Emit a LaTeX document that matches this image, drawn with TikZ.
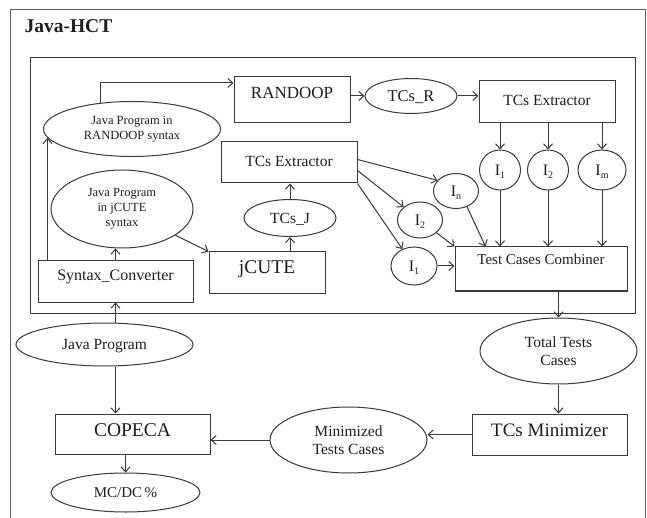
\documentclass[tikz,border=0pt]{standalone}
\usepackage{fontspec}
\IfFontExistsTF{LiberationSerif-Regular.ttf}
  {\setmainfont{LiberationSerif}[Extension=.ttf,UprightFont=*-Regular,BoldFont=*-Bold,ItalicFont=*-Italic,BoldItalicFont=*-BoldItalic]}
  {\setmainfont{Liberation Serif}}
\usetikzlibrary{shapes.geometric,arrows.meta,calc}
\definecolor{lc}{HTML}{3A3A3A}
\definecolor{tc}{HTML}{1E1E1E}
\newcommand\lift[2]{\raisebox{\dimexpr#1pt-.33em\relax}[0pt][0pt]{#2}}
\newcommand\fsz[2]{\fontsize{#1}{#2}\selectfont}
\newcommand\low[1]{\raisebox{-0.22em}{\fontsize{10}{10}\selectfont #1}}
\tikzset{
  ln/.style={draw=lc, line width=1pt},
  box/.style={ln, rectangle, inner sep=0pt, text=tc},
  ell/.style={ln, ellipse, inner sep=0pt, text=tc, align=center},
  arr/.style={ln, -{Straight Barb[length=5pt,width=9pt]}},
}
\begin{document}
\begin{tikzpicture}[x=1pt,y=-1pt]
\fill[white] (0,0) rectangle (647,518);
\useasboundingbox (0,0) rectangle (647,518);
% frames
\draw[draw=lc!80, line width=1pt] (10,518) -- (10,10) -- (645,10) -- (645,518);
\draw[ln] (30,58) rectangle (635,313);
\node[anchor=base west, text=tc, font=\fsz{19.5}{20}\bfseries] (title) at (21,33) {Java-HCT};

% nodes
\node[box, minimum width=116, minimum height=46, font=\fsz{17}{17}] (rand) at (292,100) {\lift{7}{RANDOOP}};
\node[ell, minimum width=92, minimum height=35, font=\fsz{16.5}{16.5}] (tcr) at (411,96) {\lift{0}{TCs\_R}};
\node[box, minimum width=136, minimum height=42, font=\fsz{15.5}{15.5}] (tex1) at (547,102) {\lift{2}{TCs Extractor}};
\node[ell, minimum width=41, minimum height=40, font=\fsz{16}{16}] (i1) at (500,170) {\lift{0}{I\low{1}}};
\node[ell, minimum width=41, minimum height=40, font=\fsz{16}{16}] (i2) at (548,170) {\lift{0}{I\low{2}}};
\node[ell, minimum width=48, minimum height=40, font=\fsz{16}{16}] (im) at (602,170) {\lift{0}{I\low{m}}};
\node[box, minimum width=172, minimum height=44, font=\fsz{15}{15}] (comb) at (541,269) {\lift{9}{Test Cases Combiner}};
\node[ell, minimum width=45, minimum height=35, font=\fsz{16}{16}] (in) at (456,191) {\lift{0}{I\low{n}}};
\node[ell, minimum width=45, minimum height=36, font=\fsz{16}{16}] (i2b) at (420,220) {\lift{0}{I\low{2}}};
\node[ell, minimum width=46, minimum height=38, font=\fsz{16}{16}] (i1b) at (414,266) {\lift{0}{I\low{1}}};
\node[box, minimum width=136, minimum height=41, font=\fsz{15.5}{15.5}] (tex2) at (289,162.5) {\lift{1}{TCs Extractor}};
\node[ell, minimum width=92, minimum height=37, font=\fsz{15.5}{15.5}] (tcj) at (290,218) {\lift{0}{TCs\_J}};
\node[box, minimum width=116, minimum height=41, font=\fsz{19.5}{19.5}] (jc) at (267,272.5) {\lift{5}{jCUTE}};
\node[ell, minimum width=177, minimum height=55, font=\fsz{12.5}{15}] (jr) at (132,129) {Java Program in\\RANDOOP syntax};
\node[ell, minimum width=142, minimum height=78, font=\fsz{12.5}{15}] (jj) at (122,209) {Java Program\\in jCUTE\\syntax};
\node[box, minimum width=155, minimum height=41, font=\fsz{16}{16}] (sc) at (115.5,281.5) {\lift{6}{Syntax\_Converter}};
\node[ell, minimum width=177, minimum height=43, font=\fsz{15.5}{15.5}] (jp) at (104.5,344.5) {\lift{0}{Java Program}};
\node[box, minimum width=155, minimum height=40, font=\fsz{19.5}{19.5}] (cop) at (132.5,434) {\lift{4}{COPECA}};
\node[ell, minimum width=149, minimum height=39, font=\fsz{15}{15}] (mc) at (125.5,492.5) {\lift{0}{MC/DC\,\%}};
\node[ell, minimum width=157, minimum height=66, font=\fsz{15.5}{18}] (minz) at (348.5,440) {Minimized\\Tests Cases};
\node[box, minimum width=155, minimum height=41, font=\fsz{19}{19}] (mini) at (549.5,434.5) {\lift{4}{TCs Minimizer}};
\node[ell, minimum width=157, minimum height=66, font=\fsz{15.5}{18}] (tt) at (558.5,351) {Total Tests\\Cases};

% connectors
\draw[arr] (jr.140) |- ([yshift=17pt]rand.west);
\draw[arr] (rand.east |- tcr.west) -- (tcr.west);
\draw[arr] (tcr.east) -- (tcr.east -| tex1.west);
\foreach \n in {i1,i2,im} {
  \draw[arr] (\n.north |- tex1.south) -- (\n.north);
  \draw[arr] (\n.south) -- (\n.south |- comb.north);
}
\draw[arr] ([yshift=3pt]tex2.east) -- (in.150);
\draw[arr] ([yshift=-8pt]tex2.east) -- (i2b);
\draw[arr] (tex2.south east) -- (i1b);
\draw[arr] (in.305) -- ([xshift=31pt]comb.north west);
\draw[arr] (i2b) -- (comb.north west);
\draw[arr] (i1b.east) -- (i1b.east -| comb.west);
\draw[arr] (tcj.north) -- (tcj.north |- tex2.south);
\draw[arr] (tcj.south |- jc.north) -- (tcj.south);
\draw[arr] (jj) -- (jc.north west);
\draw[arr] (sc.north) -- (sc.north |- jj.south);
\draw[arr] ([xshift=10pt]sc.north west) -- ([xshift=10pt]sc.north west |- jr.186);
\draw[arr] (sc.south |- jp.north) -- (sc.south);
\draw[arr] (sc.south |- jp.south) -- (sc.south |- cop.north);
\draw[arr] (mc.north |- cop.south) -- (mc.north);
\draw[arr] (tt.north |- comb.south) -- (tt.north);
\draw[arr] (tt.south) -- (tt.south |- mini.north);
\draw[arr] (mini.west) -- (mini.west -| minz.east);
\draw[arr] (minz.west) -- (minz.west -| cop.east);
\end{tikzpicture}
\end{document}
